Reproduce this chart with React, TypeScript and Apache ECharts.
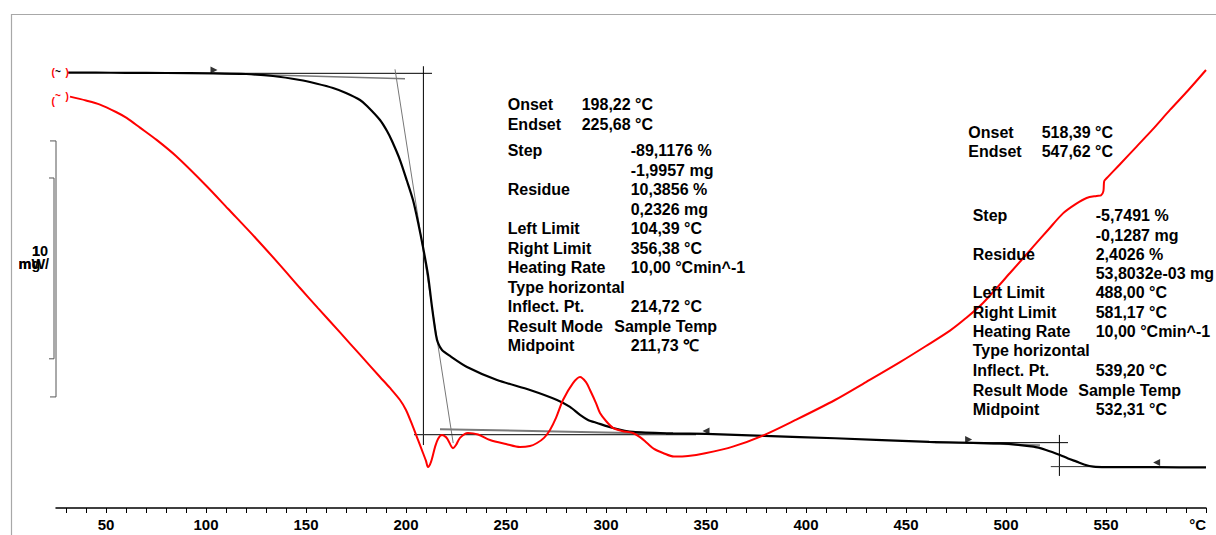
import React, { useEffect, useRef } from "react";
import * as echarts from "echarts";

// ---------- TG curve (black): temperature (°C) and mass (%) ----------
const tgTemp = [
  31, 45, 60, 80, 104, 120, 133.5, 147, 155, 163.5,
  170, 177, 180.5, 187, 190.5, 193, 197, 200.5, 203.5, 206,
  208.5, 211, 213, 215, 216, 218, 222, 230.5, 245.5, 262,
  275.5, 282, 287, 291, 295.5, 303.5, 313.5, 333.5, 350, 379,
  414.5, 461.6, 497, 513.7, 520, 527, 531, 535.3, 539, 543.7,
  550, 575, 600,
];
const tgMass = [
  100.0, 100.0, 99.98, 99.93, 99.85, 99.68, 99.19, 98.2, 97.33, 96.22,
  94.99, 93.26, 91.78, 88.32, 85.6, 83.13, 78.44, 73.26, 68.57, 63.14,
  56.96, 50.04, 42.14, 35.23, 33.26, 31.53, 30.05, 27.33, 24.12, 21.65,
  19.18, 17.46, 15.48, 14.25, 13.51, 12.27, 11.28, 10.91, 10.79, 10.3,
  9.73, 8.81, 8.44, 7.65, 6.84, 5.6, 4.74, 3.95, 3.26, 2.72,
  2.59, 2.57, 2.52,
];

// ---------- DTA curve (red): temperature (°C) and signal (mW) ----------
const dtaTemp = [
  32, 40, 47, 55, 60.3, 67, 75.3, 85, 100, 111,
  125, 137, 147, 156, 167, 177, 187, 192, 197, 200,
  203.5, 206, 208.5, 210, 211, 212.5, 214.5, 216, 218, 220,
  221, 223.5, 225, 227, 231, 236, 242, 250, 257, 262,
  265.5, 269, 272, 275, 278.5, 283.5, 287, 290, 292, 295,
  297, 300, 303.5, 308, 313.5, 317, 320.5, 324, 328.5, 334,
  341, 349.6, 363.4, 379, 394.8, 414.5, 430, 447, 460, 472,
  480, 488.5, 502, 513.5, 521, 528.5, 535, 540.3, 545.3, 547.5,
  548.7, 549.1, 550.3, 557, 565.3, 573, 582, 591, 600,
];
const dtaSignal = [
  11.85, 11.7, 11.54, 11.25, 11.02, 10.64, 10.16, 9.53, 8.38, 7.47,
  6.31, 5.27, 4.375, 3.59, 2.64, 1.77, 0.9, 0.47, 0.0, -0.39,
  -1.05, -1.56, -2.07, -2.38, -2.62, -2.42, -1.84, -1.52, -1.37, -1.45,
  -1.56, -1.88, -1.76, -1.48, -1.29, -1.35, -1.56, -1.72, -1.84, -1.8,
  -1.68, -1.48, -1.17, -0.7, 0.0, 0.66, 0.9, 0.7, 0.39, -0.12,
  -0.51, -0.82, -1.09, -1.21, -1.29, -1.45, -1.68, -1.91, -2.07, -2.21,
  -2.19, -2.08, -1.82, -1.37, -0.78, 0.0, 0.7, 1.48, 2.11, 2.71,
  3.2, 3.79, 4.96, 5.98, 6.64, 7.29, 7.66, 7.89, 7.97, 7.99,
  8.16, 8.55, 8.66, 9.21, 9.9, 10.54, 11.33, 12.09, 12.89,
];

// ---------- axis ticks / labels ----------
const xMin = 25;
const xMax = 600;
const xTickValues = [
  30, 40, 50, 60, 70, 80, 90, 100, 110, 120, 130, 140, 150, 160, 170, 180, 190, 200,
  210, 220, 230, 240, 250, 260, 270, 280, 290, 300, 310, 320, 330, 340, 350, 360, 370,
  380, 390, 400, 410, 420, 430, 440, 450, 460, 470, 480, 490, 500, 510, 520, 530, 540,
  550, 560, 570, 580, 590, 600,
];
const xLabelValues = [50, 100, 150, 200, 250, 300, 350, 400, 450, 500, 550, 600];
const unitLabel = "°C";

// ---------- evaluation constructions (TG %, per step) ----------
const step1Lines = [
  [[104, 99.85], [213, 99.85]],
  [[103.5, 99.85], [199.5, 98.52]],
  [[208.7, 101.6], [208.7, 8.05]],
  [[194.5, 100.84], [223.6, 8.54]],
  [[204, 10.62], [345, 10.62]],
  [[217, 11.95], [330, 10.85]],
];
const step2Lines = [
  [[464.6, 8.64], [531, 8.64]],
  [[480, 8.62], [517, 7.98]],
  [[526.7, 10.55], [526.7, 0.42]],
  [[522.4, 2.72], [560, 2.72]],
];
const limitMarkers = [
  [104, 100.67],
  [350, 11.53],
  [481.3, 9.43],
  [575.3, 3.75],
];
const limitDirections = ["right", "left", "right", "left"];

// ---------- scale bars ----------
const sampleMassMg = 2.2394; // = 100 %
const massBarTopPct = 74.0;
const massBarMg = 1;
const massBarTemp = [21.5, 24];
const dtaBarTop = 10.12;
const dtaBarMw = 10;
const dtaBarTemp = [22, 25];

// ---------- annotation tables ----------
const step1Labels = ["Onset", "Endset", "Step", "", "Residue", "", "Left Limit", "Right Limit", "Heating Rate", "Type horizontal", "Inflect. Pt.", "Result Mode", "Midpoint"];
const step1Values = ["198,22 °C", "225,68 °C", "-89,1176 %", "-1,9957 mg", "10,3856 %", "0,2326 mg", "104,39 °C", "356,38 °C", "10,00 °Cmin^-1", "", "214,72 °C", "Sample Temp", "211,73 ℃"];
const step2Labels = ["Onset", "Endset", "Step", "", "Residue", "", "Left Limit", "Right Limit", "Heating Rate", "Type horizontal", "Inflect. Pt.", "Result Mode", "Midpoint"];
const step2Values = ["518,39 °C", "547,62 °C", "-5,7491 %", "-0,1287 mg", "2,4026 %", "53,8032e-03 mg", "488,00 °C", "581,17 °C", "10,00 °Cmin^-1", "", "539,20 °C", "Sample Temp", "532,31 °C"];

const FONT = '"Liberation Sans", Arial, Helvetica, sans-serif';

let gid = 0;
function txt(text: string, x: number, y: number, size: number, color = "#000", weight = "bold") {
  gid += 1;
  return {
    id: "t" + gid,
    type: "text",
    x,
    y,
    z: 10,
    style: { text, font: `${weight} ${size}px ${FONT}`, fill: color, textAlign: "left", textVerticalAlign: "middle" },
  };
}

function tableGraphics(
  labels: string[],
  values: string[],
  rowsY: number[],
  labelX: number,
  labelX0: number,
  valueX0: number,
  valueX: number,
  modeX: number
) {
  const out: any[] = [];
  labels.forEach((lab, i) => {
    const y = rowsY[i];
    if (lab) out.push(txt(lab, i < 2 ? labelX0 : labelX, y, 16));
    const v = values[i];
    if (v) {
      const vx = i < 2 ? valueX0 : lab === "Result Mode" ? modeX : valueX;
      out.push(txt(v, vx, y, 16));
    }
  });
  return out;
}

function buildOption() {
  gid = 0;
  const tgData = tgTemp.map((t, i) => [t, tgMass[i]]);
  const dtaData = dtaTemp.map((t, i) => [t, dtaSignal[i]]);

  const step1Styles = [
    { color: "#000", width: 1 },
    { color: "#7a7a7a", width: 1.5 },
    { color: "#000", width: 1 },
    { color: "#777", width: 1 },
    { color: "#333", width: 1.2 },
    { color: "#7a7a7a", width: 2 },
  ];
  const step2Styles = [
    { color: "#000", width: 1 },
    { color: "#8a8a8a", width: 2 },
    { color: "#000", width: 1 },
    { color: "#333", width: 1 },
  ];

  const constructionSeries: any[] = [];
  step1Lines.forEach((ln, i) =>
    constructionSeries.push({ type: "line", data: ln, yAxisIndex: 0, showSymbol: false, silent: true, lineStyle: step1Styles[i], z: 2 })
  );
  step2Lines.forEach((ln, i) =>
    constructionSeries.push({ type: "line", data: ln, yAxisIndex: 0, showSymbol: false, silent: true, lineStyle: step2Styles[i], z: 2 })
  );

  const rows1Y = [104.5, 124, 150, 170, 189.5, 209, 228.5, 248, 267.5, 287, 306.5, 326, 345.5];
  const rows2Y = [132.7, 151.7, 215, 235, 254, 273.3, 292.7, 312.3, 331.7, 350.7, 370.3, 390, 409.3];

  const graphic: any[] = [
    {
      id: "frame",
      type: "rect",
      shape: { x: 11.5, y: 14.5, width: 1400, height: 800 },
      style: { fill: "none", stroke: "#a8a8a8", lineWidth: 1.2 },
      silent: true,
      z: 0,
    },
    txt("10", 32, 250.5, 14.5),
    txt("1", 32, 250.5, 14.5),
    txt("mW/", 18.5, 264, 14.5),
    txt("mg", 18.5, 264, 14.5),
    txt("(", 51.5, 72.5, 10, "#ff0000"),
    txt("~", 55, 71, 10, "#000"),
    txt(")", 65.5, 72.5, 10, "#ff0000"),
    txt("(", 51.5, 101, 10, "#ff0000"),
    txt("~", 55, 95, 10, "#ff0000"),
    txt(")", 65.5, 96.5, 10, "#ff0000"),
    ...tableGraphics(step1Labels, step1Values, rows1Y, 507.7, 507.7, 581.7, 630.7, 614.3),
    ...tableGraphics(step2Labels, step2Values, rows2Y, 972.7, 968.3, 1041.7, 1095.7, 1078.3),
  ];

  return {
    animation: false,
    backgroundColor: "#ffffff",
    grid: { left: 56, right: 10, top: 14, bottom: 27, containLabel: false },
    xAxis: {
      type: "value",
      min: xMin,
      max: xMax,
      axisLine: { show: true, onZero: false, lineStyle: { color: "#000", width: 1.5 } },
      axisTick: { show: true, customValues: xTickValues, length: 5, lineStyle: { color: "#000", width: 1 } },
      axisLabel: {
        customValues: xLabelValues,
        formatter: (v: number) => (v === xMax ? unitLabel : String(v)),
        color: "#000",
        fontSize: 15,
        fontWeight: "bold",
        fontFamily: FONT,
        margin: 9,
        alignMaxLabel: "right",
      },
      splitLine: { show: false },
    },
    yAxis: [
      { type: "value", min: -7.5, max: 114.5, show: false, splitLine: { show: false } },
      { type: "value", min: -4.21875, max: 15.078125, show: false, splitLine: { show: false } },
    ],
    graphic,
    series: [
      ...constructionSeries,
      {
        name: "TG",
        type: "line",
        data: tgData,
        yAxisIndex: 0,
        showSymbol: false,
        smooth: 0.25,
        lineStyle: { color: "#000", width: 2.2 },
        z: 3,
      },
      {
        name: "DTA",
        type: "line",
        data: dtaData,
        yAxisIndex: 1,
        showSymbol: false,
        smooth: 0.3,
        lineStyle: { color: "#ff0000", width: 2 },
        z: 4,
      },
      {
        type: "scatter",
        yAxisIndex: 0,
        symbol: "triangle",
        symbolSize: [7, 7],
        silent: true,
        itemStyle: { color: "#000" },
        data: limitMarkers.map((p, i) => ({
          value: p,
          symbolRotate: limitDirections[i] === "right" ? -90 : 90,
        })),
        z: 5,
      },
    ],
  };
}

export default function App() {
  const ref = useRef<HTMLDivElement>(null);
  useEffect(() => {
    if (!ref.current) return;
    const chart = echarts.init(ref.current, null, { renderer: "svg" });
    chart.setOption(buildOption() as any);

    // scale bars, placed through the chart's own scales
    const px = (t: number, v: number, yi: number) =>
      chart.convertToPixel({ xAxisIndex: 0, yAxisIndex: yi } as any, [t, v]) as number[];
    const massBottom = massBarTopPct - (massBarMg / sampleMassMg) * 100;
    const massPts = [
      px(massBarTemp[0], massBarTopPct, 0),
      px(massBarTemp[1], massBarTopPct, 0),
      px(massBarTemp[1], massBottom, 0),
      px(massBarTemp[0], massBottom, 0),
    ];
    const dtaPts = [
      px(dtaBarTemp[0], dtaBarTop, 1),
      px(dtaBarTemp[1], dtaBarTop, 1),
      px(dtaBarTemp[1], dtaBarTop - dtaBarMw, 1),
      px(dtaBarTemp[0], dtaBarTop - dtaBarMw, 1),
    ];
    chart.setOption({
      graphic: [
        { id: "massBar", type: "polyline", shape: { points: massPts }, style: { fill: "none", stroke: "#555", lineWidth: 1 }, silent: true, z: 5 },
        { id: "dtaBar", type: "polyline", shape: { points: dtaPts }, style: { fill: "none", stroke: "#555", lineWidth: 1 }, silent: true, z: 5 },
      ],
    } as any);
    return () => chart.dispose();
  }, []);
  return (
    <div
      ref={ref}
      style={{ position: "fixed", left: 0, top: 0, width: 1216, height: 535, background: "#fff" }}
    />
  );
}
